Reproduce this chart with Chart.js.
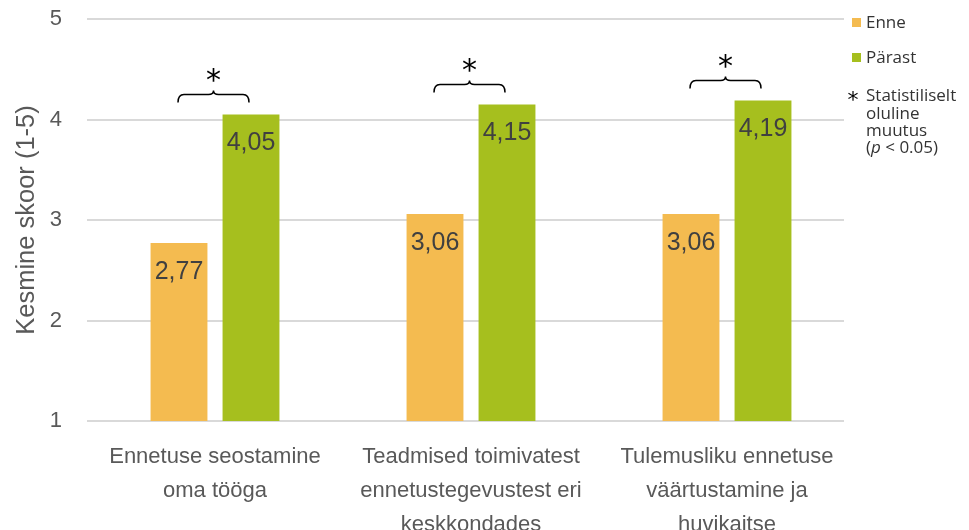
<!DOCTYPE html>
<html>
<head>
<meta charset="utf-8">
<script src="https://cdn.jsdelivr.net/npm/chart.js@4"></script>
<style>
  html, body { margin: 0; padding: 0; background: #fff; }
  #wrap { width: 969px; height: 530px; }
</style>
</head>
<body>
<div id="wrap"><canvas id="myChart"></canvas></div>
<script>
const categories = [
    ['Ennetuse seostamine', 'oma tööga'],
    ['Teadmised toimivatest', 'ennetustegevustest eri', 'keskkondades'],
    ['Tulemusliku ennetuse', 'väärtustamine ja', 'huvikaitse']
];
const enneValues = [2.77, 3.06, 3.06];
const parastValues = [4.05, 4.15, 4.19];
const significant = [true, true, true];
const yTicks = [1, 2, 3, 4, 5];

const enneColor = '#F4BB50';
const parastColor = '#A6BF1E';
const textGray = '#595959';

// gridlines drawn by hand so they stop short of the legend
const gridPlugin = {
    id: 'grid',
    beforeDatasetsDraw(chart) {
        const ctx = chart.ctx;
        const area = chart.chartArea;
        const y = chart.scales.y;
        ctx.save();
        ctx.strokeStyle = '#d9d9d9';
        ctx.lineWidth = 2;
        yTicks.forEach(v => {
            const py = Math.round(y.getPixelForValue(v));
            ctx.beginPath();
            ctx.moveTo(area.left, py);
            ctx.lineTo(area.right - 11, py);
            ctx.stroke();
        });
        ctx.restore();
    }
};

function drawStar(ctx, x, cy, size) {
    ctx.font = size + 'px "DejaVu Sans"';
    ctx.textAlign = 'center';
    ctx.textBaseline = 'alphabetic';
    const m = ctx.measureText('*');
    ctx.fillText('*', x, cy + (m.actualBoundingBoxAscent - m.actualBoundingBoxDescent) / 2);
}

const labelPlugin = {
    id: 'labels',
    afterDatasetsDraw(chart) {
        const ctx = chart.ctx;
        ctx.save();
        // values inside bars
        ctx.fillStyle = '#404040';
        ctx.font = '25px "Liberation Sans"';
        ctx.textAlign = 'center';
        ctx.textBaseline = 'middle';
        chart.data.datasets.forEach((ds, di) => {
            chart.getDatasetMeta(di).data.forEach((bar, i) => {
                ctx.fillText(ds.data[i].toFixed(2).replace('.', ','), bar.x, bar.y + 29);
            });
        });

        // significance braces
        const m0 = chart.getDatasetMeta(0).data;
        const m1 = chart.getDatasetMeta(1).data;
        ctx.strokeStyle = '#000';
        ctx.fillStyle = '#000';
        ctx.lineWidth = 1.5;
        significant.forEach((sig, i) => {
            if (!sig) return;
            const x1 = m0[i].x - 1, x2 = m1[i].x - 2;
            const xc = (x1 + x2) / 2;
            const yb = Math.min(m0[i].y, m1[i].y) - 12;
            const ym = yb - 8;
            const yt = ym - 4;
            ctx.beginPath();
            ctx.moveTo(x1, yb);
            ctx.quadraticCurveTo(x1, ym, x1 + 6, ym);
            ctx.lineTo(xc - 5, ym);
            ctx.quadraticCurveTo(xc, ym, xc, yt);
            ctx.quadraticCurveTo(xc, ym, xc + 5, ym);
            ctx.lineTo(x2 - 6, ym);
            ctx.quadraticCurveTo(x2, ym, x2, yb);
            ctx.stroke();
            drawStar(ctx, xc, yt - 15, 30);
        });

        // legend
        const lx = 852;
        ctx.textAlign = 'left';
        ctx.textBaseline = 'middle';
        ctx.font = '17px "Open Sans"';
        ctx.fillStyle = chart.data.datasets[0].backgroundColor;
        ctx.fillRect(lx, 18, 9, 9);
        ctx.fillStyle = chart.data.datasets[1].backgroundColor;
        ctx.fillRect(lx, 53, 9, 9);
        ctx.fillStyle = '#333';
        ctx.fillText(chart.data.datasets[0].label, 866, 23);
        ctx.fillText(chart.data.datasets[1].label, 866, 58);
        ctx.fillStyle = '#000';
        drawStar(ctx, 853, 96, 22);
        ctx.fillStyle = '#333';
        ctx.textAlign = 'left';
        ctx.textBaseline = 'middle';
        ctx.font = '17px "Open Sans"';
        ctx.fillText('Statistiliselt', 866, 96);
        ctx.fillText('oluline', 866, 114);
        ctx.fillText('muutus', 866, 131);
        let tx = 866;
        ctx.fillText('(', tx, 148);
        tx += ctx.measureText('(').width;
        ctx.font = 'italic 17px "Open Sans"';
        ctx.fillText('p', tx, 148);
        tx += ctx.measureText('p').width;
        ctx.font = '17px "Open Sans"';
        ctx.fillText(' < 0.05)', tx, 148);
        ctx.restore();
    }
};

new Chart('myChart', {
    type: 'bar',
    data: {
        labels: categories,
        datasets: [{
            label: 'Enne',
            data: enneValues,
            backgroundColor: enneColor,
            categoryPercentage: 0.5625,
            barPercentage: 0.79
        }, {
            label: 'Pärast',
            data: parastValues,
            backgroundColor: parastColor,
            categoryPercentage: 0.5625,
            barPercentage: 0.79
        }]
    },
    options: {
        responsive: true,
        maintainAspectRatio: false,
        animation: false,
        layout: { padding: { top: 19, right: 114, left: 0, bottom: 0 } },
        plugins: {
            legend: { display: false },
            tooltip: { enabled: false }
        },
        scales: {
            x: {
                grid: { display: false },
                border: { display: false },
                ticks: {
                    color: textGray,
                    font: { family: '"Liberation Sans"', size: 22, lineHeight: 34 / 22 },
                    padding: 11,
                    maxRotation: 0,
                    autoSkip: false
                },
                afterFit: s => { s.height = 109; }
            },
            y: {
                min: 1,
                max: 5,
                grid: { display: false },
                border: { display: false },
                ticks: {
                    stepSize: 1,
                    color: textGray,
                    font: { family: '"Liberation Sans"', size: 22 },
                    padding: 17
                },
                title: {
                    display: true,
                    text: 'Kesmine skoor (1-5)',
                    color: textGray,
                    font: { family: '"Liberation Sans"', size: 25.5 },
                    padding: { top: 12, bottom: 0 }
                },
                afterFit: s => {
                    s.width = 87;
                    s.paddingTop = 0;
                    s.paddingBottom = 0;
                }
            }
        }
    },
    plugins: [gridPlugin, labelPlugin]
});
</script>
</body>
</html>
